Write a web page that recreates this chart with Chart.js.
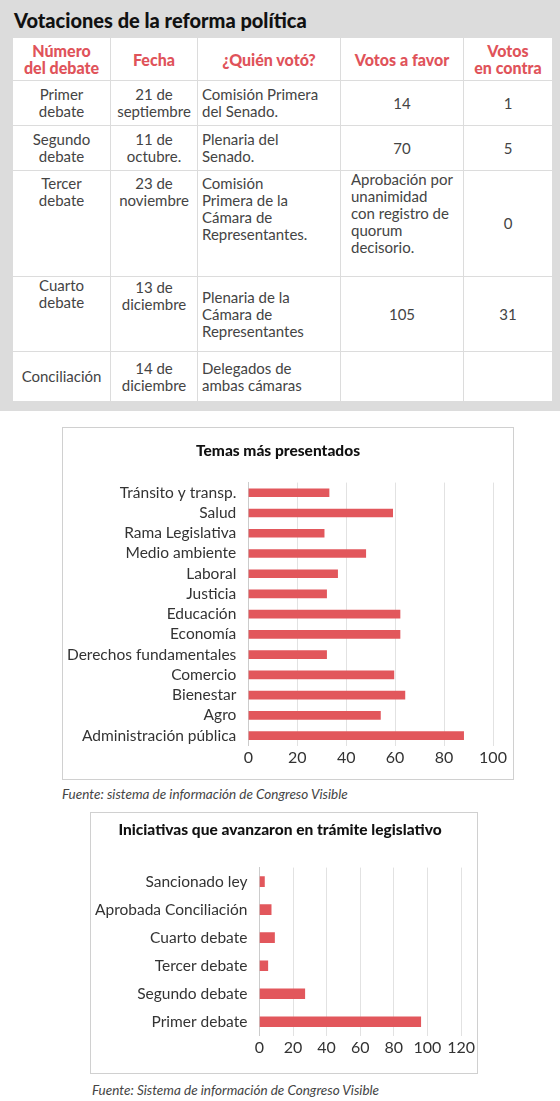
<!DOCTYPE html>
<html><head><meta charset="utf-8">
<script src="https://cdn.jsdelivr.net/npm/chart.js@4"></script>
<style>
body{margin:0;width:560px;height:1101px;background:#fff;font-family:Lato,"Open Sans",sans-serif;position:relative;overflow:hidden}
#top{position:absolute;left:0;top:0;width:560px;height:411px;background:#dcdcdc}
#top h1{position:absolute;left:14px;top:8px;margin:0;font-size:20px;font-weight:900;color:#111}
table{position:absolute;left:12px;top:37px;border-collapse:collapse;background:#fff;width:540px;table-layout:fixed}
td,th{border:1px solid #dcdcdc;font-size:15px;color:#444;line-height:17px;padding:0 4px;vertical-align:middle;font-weight:400;white-space:nowrap}
th{color:#e0535a;font-weight:900;font-size:16px;text-align:center;line-height:17px}
.c{text-align:center}
.l{text-align:left}
.t{vertical-align:top;padding-top:4px}
.box{position:absolute;background:#fff;border:1px solid #d0d0d0}
.note{position:absolute;font-style:italic;font-size:13.5px;color:#444}
</style></head><body>
<div id="top"><h1>Votaciones de la reforma política</h1>
<table>
<colgroup><col style="width:98px"><col style="width:87px"><col style="width:143px"><col style="width:123px"><col style="width:89px"></colgroup>
<tr style="height:43px"><th>Número<br>del debate</th><th>Fecha</th><th>¿Quién votó?</th><th>Votos a favor</th><th>Votos<br>en contra</th></tr>
<tr style="height:45px"><td class="c">Primer<br>debate</td><td class="c">21 de<br>septiembre</td><td class="l">Comisión Primera<br>del Senado.</td><td class="c">14</td><td class="c">1</td></tr>
<tr style="height:45px"><td class="c">Segundo<br>debate</td><td class="c">11 de<br>octubre.</td><td class="l">Plenaria del<br>Senado.</td><td class="c">70</td><td class="c">5</td></tr>
<tr style="height:106px"><td class="c t">Tercer<br>debate</td><td class="c t">23 de<br>noviembre</td><td class="l t">Comisión<br>Primera de la<br>Cámara de<br>Representantes.</td><td class="l t" style="padding-left:10px;padding-top:0">Aprobación por<br>unanimidad<br>con registro de<br>quorum<br>decisorio.</td><td class="c">0</td></tr>
<tr style="height:75px"><td class="c t" style="padding-top:0">Cuarto<br>debate</td><td class="c t" style="padding-top:2px">13 de<br>diciembre</td><td class="l">Plenaria de la<br>Cámara de<br>Representantes</td><td class="c">105</td><td class="c">31</td></tr>
<tr style="height:50px"><td class="c">Conciliación</td><td class="c">14 de<br>diciembre</td><td class="l">Delegados de<br>ambas cámaras</td><td></td><td></td></tr>
</table></div>
<div class="box" style="left:62px;top:427px;width:450px;height:351px"><canvas id="c1"></canvas></div>
<div class="note" style="left:62px;top:786px">Fuente: sistema de información de Congreso Visible</div>
<div class="box" style="left:90px;top:812px;width:386px;height:260px"><canvas id="c2"></canvas></div>
<div class="note" style="left:92px;top:1082px">Fuente: Sistema de información de Congreso Visible</div>
<script>
const temas=["Tránsito y transp.","Salud","Rama Legislativa","Medio ambiente","Laboral","Justicia","Educación","Economía","Derechos fundamentales","Comercio","Bienestar","Agro","Administración pública"];
const temasVal=[33,59,31,48,36.5,32,62,62,32,59.5,64,54,88];
const etapas=["Sancionado ley","Aprobada Conciliación","Cuarto debate","Tercer debate","Segundo debate","Primer debate"];
const etapasVal=[3,7,9,5,27,96];
const red="#e2575c";
function mk(id,labels,data,max,title,bar,pad){
 new Chart(document.getElementById(id),{type:'bar',data:{labels,datasets:[{data,backgroundColor:red,barThickness:bar}]},
 options:{indexAxis:'y',responsive:true,maintainAspectRatio:false,animation:false,layout:{padding:pad},
 plugins:{legend:{display:false},tooltip:{enabled:false},title:{display:true,text:title,color:'#111',font:{family:'Lato',size:15.5,weight:'900'},padding:{top:0,bottom:pad.tb}}},
 scales:{x:{min:0,max:max,ticks:{stepSize:20,color:'#333',font:{family:'Lato',size:16},padding:2},grid:{color:'#e2e2e2',drawTicks:false},border:{display:false}},
 y:{ticks:{autoSkip:false,color:'#333',font:{family:'Lato',size:15.5},padding:4},grid:{display:false},border:{color:'#ccc'}}}}});
}
mk('c1',temas,temasVal,100,'Temas más presentados',8,{top:14,left:0,right:20,bottom:10,tb:22});
mk('c2',etapas,etapasVal,120,'Iniciativas que avanzaron en trámite legislativo',10,{top:8,left:0,right:8,bottom:14,tb:28});
</script>
</body></html>
